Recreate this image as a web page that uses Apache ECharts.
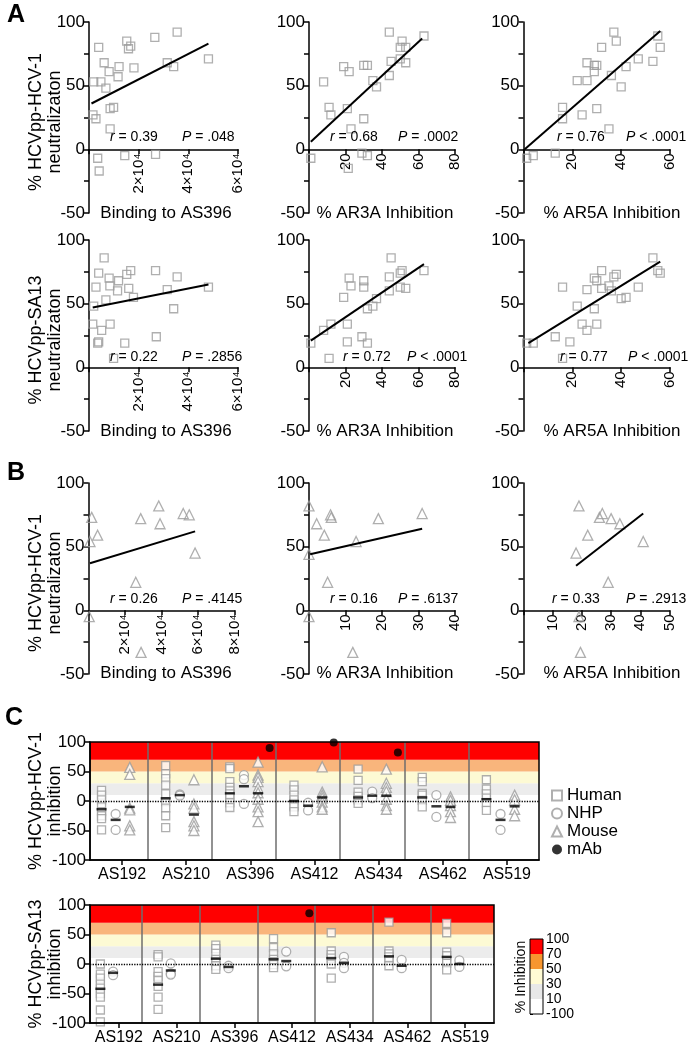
<!DOCTYPE html>
<html><head><meta charset="utf-8">
<script src="https://cdn.jsdelivr.net/npm/echarts/dist/echarts.min.js"></script>
<style>html,body{margin:0;padding:0;background:#fff}#c{width:696px;height:1050px}</style>
</head><body><div id="c"></div>
<script>
// ---------- DATA ----------
const a1Points = [[1600,27],[2800,24],[1900,53],[4800,53],[6800,48],[3900,80],[6100,68],[8100,61],[11700,57],[12100,65],[18100,64],[15200,85],[16800,81],[15900,79],[26500,88],[35500,92],[31500,68],[34100,65],[48100,71],[8500,32],[9900,33],[8500,16],[3500,-7],[4100,-17],[14400,-5],[26800,-4]];
const a1Fit = [[1000,36],[48100,83]];
const a2Points = [[1,-7],[8,53],[11,33],[12,27],[19,65],[22,61],[21,32],[23,16],[21.5,-15],[30,66],[32,66],[30,24],[29,-3],[32,-5],[35,54],[37,49],[44,58],[45,69],[44,92],[50,71],[50,80],[51,85],[53,80],[53,68],[63,89]];
const a2Fit = [[1,6],[62,87]];
const a3Points = [[1.3,-7],[4,-5],[13,-3],[16,33],[16,24],[22,54],[24,27],[26,54],[26,68],[29,61],[29,66],[30,66],[30,32],[32,80],[35,16],[36,58],[37,92],[38,85],[40,49],[42,65],[47,71],[53,69],[55,89],[56,80]];
const a3Fit = [[0.5,0],[56,93]];
const a4Points = [[6100,86],[3900,74],[2800,63],[8100,70],[8400,64],[11900,68],[11500,60],[15200,73],[16800,76],[16000,62],[17900,55],[6800,53],[1900,48],[1500,34],[5100,29],[8500,34],[3900,20],[3500,19],[14400,19],[9900,7],[26800,76],[27100,24],[31500,61],[35500,71],[34100,46],[48100,63]];
const a4Fit = [[1500,47],[48100,65]];
const a5Points = [[1,19],[8,29],[12,34],[11,7],[19,55],[21,34],[21,20],[22,70],[23,64],[30,68],[30,63],[29,24],[32,19],[32,46],[35,48],[37,54],[44,71],[44,60],[45,86],[50,74],[51,76],[50,63],[53,62],[63,76]];
const a5Fit = [[1,21],[63,81]];
const a6Points = [[1.3,19],[4,19],[13,24],[16,63],[19,20],[16,7],[22,48],[24,34],[26,29],[26,61],[29,46],[29,70],[30,68],[30,34],[32,76],[32,62],[35,64],[36,60],[37,71],[38,73],[40,54],[42,55],[47,63],[53,86],[55,76],[56,74]];
const a6Fit = [[2,19],[56,83]];
const b1Points = [[1750,73],[800,54],[5000,59],[400,-5],[28600,72],[25900,22],[38500,82],[39200,68],[51900,76],[55200,75],[58400,45],[28800,-33]];
const b1Fit = [[800,37],[58400,62]];
const b2Points = [[0,82],[0,44],[0,-5],[2.1,68],[4.2,59],[5.1,22],[5.9,75],[6.1,73],[12.9,54],[19,72],[31,76],[12,-33]];
const b2Fit = [[0.3,44],[31,64]];
const b3Points = [[19,82],[18,45],[19,-5],[22,59],[26,73],[27,76],[30,72],[33,68],[29,22],[41,54],[19.5,-33]];
const b3Fit = [[18,35],[41,76]];

const rValues = ['0.39','0.68','0.76','0.22','0.72','0.77','0.26','0.16','0.33'];
const pValues = ['= .048','= .0002','< .0001','= .2856','< .0001','< .0001','= .4145','= .6137','= .2913'];

const categories = ['AS192','AS210','AS396','AS412','AS434','AS462','AS519'];
const topHuman = [[18,10,2,-10,-18,-25,-30,-49],[60,46,38,27,12,-1,-12,-25,-45],[58,55,33,23,17,12,6,-3,-11],[27,19,10,2,-8,-10,-18],[54,35,15,8,2,-4],[40,33,13,10,1,-10],[36,20,12,5,-3,-16]];
const topHumanBar = [-14,4.5,13,0,6,6,3];
const topNHP = [[-22,-49],[11,9],[44,37,-5],[-3,-16],[16,5],[10,-27],[-22,-49]];
const topNHPBar = [-32,10,25,-8,9,-9,-32];
const topMouse = [[57,45,-12,-15,-42,-49],[36,-5,-12,-35,-42,-50],[66,44,40,33,22,14,3,-10,-18,-35],[58,15,10,5,-2,-10,-14],[54,30,23,16,3,-8,-14],[7,1,-8,-18,-28],[10,2,-14,-25]];
const topMouseBar = [-10,-23,13,6,9,-10,-9];
const topMab = [null,null,90,99,82,null,null];
const botHuman = [[0,-17,-24,-34,-41,-50,-56,-78,-98],[16,12,-13,-21,-28,-38,-56,-77],[32,26,18,8,3,-3,-9],[43,28,17,8,4,-1,-6],[53,22,16,10,0,-24],[71,22,17,12,5,-3],[69,53,20,14,5,1,-10]];
const botHumanBar = [-42,-35,9,8,10,13,12];
const botNHP = [[-13,-19],[1,-16,-18],[-3,-7],[21,-4],[12,2,-7],[7,-7],[6,-5]];
const botNHPBar = [-15,-11,-5,5,2,-3,0];
const botMab = [null,null,null,86,null,null,null];

const bandEdges = [10,30,50,70,100];
const cbLabels = ['-100','10','30','50','70','100'];

// ---------- BUILD ----------
const FONT = '"Liberation Sans", Arial, Helvetica, sans-serif';
const bandColors = ['#ececec','#fdfad4','#f9b57c','#ff0000'];
const cbColors = ['#ffffff','#e8e8e8','#fffbd4','#f7962f','#ff0000'];
const grids=[], xAxes=[], yAxes=[], series=[], graphics=[];
const sci = v => (v/1e4) + '×10⁴';

function addScatterPanel(c){
  const gi = grids.length;
  grids.push({left:c.left, top:c.top, width:c.width, height:c.height});
  const xi = xAxes.length;
  xAxes.push({type:'value', gridIndex:gi, min:0, max:c.xMax, interval:c.xInt, position:'bottom',
    offset: -c.height/3,
    axisLine:{onZero:false, lineStyle:{color:'#000', width:1.5}},
    axisTick:{length:5, lineStyle:{color:'#000', width:1.5}},
    splitLine:{show:false},
    axisLabel:{rotate:90, fontSize:15, color:'#000', fontFamily:FONT, margin:4,
      formatter: v => v===0 ? '' : (c.sci ? sci(v) : String(v))}});
  const yi = yAxes.length;
  yAxes.push({type:'value', gridIndex:gi, min:-50, max:100, interval:50,
    axisLine:{show:true, onZero:false, lineStyle:{color:'#000', width:1.5}},
    axisTick:{show:true, length:5, lineStyle:{color:'#000', width:1.5}},
    minorTick:{show:true, splitNumber:2, length:5, lineStyle:{color:'#000', width:1.5}},
    splitLine:{show:false},
    axisLabel:{fontSize:17, color:'#000', fontFamily:FONT, margin:4}});
  series.push({type:'scatter', xAxisIndex:xi, yAxisIndex:yi, data:c.points, symbol:c.symbol, symbolSize:c.size, silent:true, z:3,
    itemStyle:{color:'rgba(255,255,255,0)', borderColor:'#9b9b9b', borderWidth:1.3}});
  series.push({type:'line', xAxisIndex:xi, yAxisIndex:yi, data:c.fit, symbol:'none', silent:true, z:4,
    lineStyle:{color:'#000', width:2}});
}

addScatterPanel({left:89, width:149, top:22, height:191, xMax:60000, xInt:20000, sci:true, points:a1Points, fit:a1Fit, symbol:'rect', size:8});
addScatterPanel({left:309, width:146, top:22, height:191, xMax:80, xInt:20, points:a2Points, fit:a2Fit, symbol:'rect', size:8});
addScatterPanel({left:523.5, width:146.5, top:22, height:191, xMax:60, xInt:20, points:a3Points, fit:a3Fit, symbol:'rect', size:8});
addScatterPanel({left:89, width:149, top:240, height:191, xMax:60000, xInt:20000, sci:true, points:a4Points, fit:a4Fit, symbol:'rect', size:8});
addScatterPanel({left:309, width:146, top:240, height:191, xMax:80, xInt:20, points:a5Points, fit:a5Fit, symbol:'rect', size:8});
addScatterPanel({left:523.5, width:146.5, top:240, height:191, xMax:60, xInt:20, points:a6Points, fit:a6Fit, symbol:'rect', size:8});
addScatterPanel({left:88.5, width:146, top:483, height:191, xMax:80000, xInt:20000, sci:true, points:b1Points, fit:b1Fit, symbol:'triangle', size:10});
addScatterPanel({left:309, width:146, top:483, height:191, xMax:40, xInt:10, points:b2Points, fit:b2Fit, symbol:'triangle', size:10});
addScatterPanel({left:523.5, width:146, top:483, height:191, xMax:50, xInt:10, points:b3Points, fit:b3Fit, symbol:'triangle', size:10});

function txt(x, y, text, opts){
  opts = opts || {};
  const fs = opts.size || 17;
  graphics.push({type:'text', x:x, y:y, rotation: opts.rot || 0, silent:true, z:100,
    style:{text:text, fill:'#000', font:(opts.bold?'bold ':'') + fs + 'px ' + FONT,
      align:opts.align||'left', verticalAlign:opts.va||'middle',
      textAlign:opts.align||'left', textVerticalAlign:opts.va||'middle',
      lineHeight: opts.lh || fs+1,
      rich: opts.rich}});
}

// stats text
const statPos = [[110,182,137],[330,398,137],[557,626,137],[110,182,357],[343,407,357],[560,628,357],[110,182,599],[330,398,599],[552,626,599]];
const ital = {i:{fontStyle:'italic', fontSize:14, fontFamily:FONT, fill:'#000'}, n:{fontSize:14, fontFamily:FONT, fill:'#000'}};
statPos.forEach((p,k)=>{
  txt(p[0], p[2], '{i|r}{n| = ' + rValues[k] + '}', {size:14, rich:ital});
  txt(p[1], p[2], '{i|P}{n| ' + pValues[k] + '}', {size:14, rich:ital});
});

// axis names
const xNames = ['Binding to AS396','% AR3A Inhibition','% AR5A Inhibition'];
const xNameX = [166, 385, 612];
[213, 431, 673].forEach(y => xNames.forEach((n,i)=> txt(xNameX[i], y, n, {align:'center'})));
const yn = {align:'center', rot:Math.PI/2, lh:19, size:18};
txt(46, 122, '% HCVpp-HCV-1\nneutralizaton', yn);
txt(46, 340, '% HCVpp-SA13\nneutralizaton', yn);
txt(46, 583, '% HCVpp-HCV-1\nneutralizaton', yn);
txt(46, 801, '% HCVpp-HCV-1\ninhibition', yn);
txt(46, 964, '% HCVpp-SA13\ninhibition', yn);
txt(7, 15, 'A', {bold:true, size:25});
txt(7, 473, 'B', {bold:true, size:25});
txt(5, 718, 'C', {bold:true, size:25});
txt(521, 977, '% Inhibition', {align:'center', rot:Math.PI/2, size:14});

// Panel C
const OFF = {h:-0.22, n:0, m:0.22, mab:0.4};
function spread(vals, off){ const out=[]; vals.forEach((arr,i)=> arr.forEach(v=> out.push([i+off, v]))); return out; }
function bars(vals, off){ return vals.map((v,i)=> [i+off, v]); }
function mabPts(vals){ const out=[]; vals.forEach((v,i)=>{ if(v!==null) out.push([i+OFF.mab, v]); }); return out; }

function addCPanel(c){
  const gi = grids.length;
  grids.push({left:90, top:c.top, width:c.width, height:118, show:true, z:10, borderColor:'#000', borderWidth:1.5, backgroundColor:'rgba(0,0,0,0)'});
  const xv = xAxes.length;
  xAxes.push({type:'value', gridIndex:gi, min:-0.4, max:6.6, show:false});
  xAxes.push({type:'category', gridIndex:gi, data:categories, position:'bottom', boundaryGap:true, z:11,
    axisLine:{show:true, onZero:false, lineStyle:{color:'#000', width:1.5}},
    axisTick:{show:true, alignWithLabel:true, length:5, lineStyle:{color:'#000', width:1.5}},
    axisLabel:{interval:0, fontSize:16, color:'#000', fontFamily:FONT, margin:7}});
  const yi = yAxes.length;
  yAxes.push({type:'value', gridIndex:gi, min:-100, max:100, interval:50, z:11,
    axisLine:{show:true, onZero:false, lineStyle:{color:'#000', width:1.5}},
    axisTick:{show:true, length:5, lineStyle:{color:'#000', width:1.5}},
    splitLine:{show:false},
    axisLabel:{fontSize:17, color:'#000', fontFamily:FONT, margin:4}});
  const base = {type:'scatter', xAxisIndex:xv, yAxisIndex:yi, silent:true};
  series.push(Object.assign({}, base, {data:[], z:1,
    markArea:{silent:true, data: bandColors.map((col,i)=>[{yAxis:bandEdges[i], itemStyle:{color:col}},{yAxis:bandEdges[i+1]}])}}));
  series.push(Object.assign({}, base, {data:[], z:2,
    markLine:{silent:true, symbol:['none','none'], label:{show:false},
      data: categories.slice(1).map((cat,i)=>({xAxis:i+0.5, lineStyle:{color:'#6e6e6e', width:1.5, type:'solid'}}))
        .concat([{yAxis:0, lineStyle:{color:'#000', width:1.3, type:'dotted'}}])}}));
  const hollow = {color:'#ffffff', borderColor:'#9b9b9b', borderWidth:1.3};
  series.push(Object.assign({}, base, {name:'Human', data:spread(c.human, OFF.h), symbol:'rect', symbolSize:8, z:3, itemStyle:hollow}));
  series.push(Object.assign({}, base, {name:'NHP', data:spread(c.nhp, OFF.n), symbol:'circle', symbolSize:9, z:3, itemStyle:hollow}));
  series.push(Object.assign({}, base, {name:'Mouse', data:spread(c.mouse, OFF.m), symbol:'triangle', symbolSize:10, z:3, itemStyle:hollow}));
  const barData = bars(c.humanBar, OFF.h).concat(bars(c.nhpBar, OFF.n)).concat(c.mouseBar ? bars(c.mouseBar, OFF.m) : []);
  series.push(Object.assign({}, base, {data:barData, symbol:'rect', symbolSize:[10,2.5], z:4, itemStyle:{color:'#000'}}));
  series.push(Object.assign({}, base, {name:'mAb', data:mabPts(c.mab), symbol:'circle', symbolSize:8, z:5, itemStyle:{color:'#000'}}));
}
addCPanel({top:742, width:449, human:topHuman, humanBar:topHumanBar, nhp:topNHP, nhpBar:topNHPBar, mouse:topMouse, mouseBar:topMouseBar, mab:topMab});
addCPanel({top:905, width:404, human:botHuman, humanBar:botHumanBar, nhp:botNHP, nhpBar:botNHPBar, mouse:categories.map(()=>[]), mouseBar:null, mab:botMab});

// colour bar
(function(){
  const gi = grids.length;
  grids.push({left:530, top:939, width:13, height:75, show:true, z:10, borderColor:'#000', borderWidth:1, backgroundColor:'rgba(0,0,0,0)'});
  const xi = xAxes.length;
  xAxes.push({type:'value', gridIndex:gi, min:0, max:1, show:false});
  const yi = yAxes.length;
  yAxes.push({type:'value', gridIndex:gi, min:0, max:cbLabels.length-1, interval:1, position:'right',
    axisLine:{show:false}, splitLine:{show:false},
    axisTick:{show:true, length:3, lineStyle:{color:'#000', width:1}},
    axisLabel:{fontSize:14, color:'#000', fontFamily:FONT, margin:3, formatter: v => cbLabels[v]}});
  series.push({type:'scatter', xAxisIndex:xi, yAxisIndex:yi, data:[], silent:true, z:1,
    markArea:{silent:true, data: cbColors.map((col,i)=>[{yAxis:i, itemStyle:{color:col}},{yAxis:i+1}])}});
})();

const chart = echarts.init(document.getElementById('c'), null, {renderer:'canvas'});
chart.setOption({
  animation:false,
  backgroundColor:'#fff',
  textStyle:{fontFamily:FONT},
  grid:grids, xAxis:xAxes, yAxis:yAxes, series:series,
  legend:{data:['Human','NHP','Mouse','mAb'], orient:'vertical', left:546, top:782, itemWidth:10, itemHeight:10, itemGap:1,
    selectedMode:false, textStyle:{fontSize:17, color:'#000', fontFamily:FONT}},
  graphic:graphics
});
</script></body></html>
